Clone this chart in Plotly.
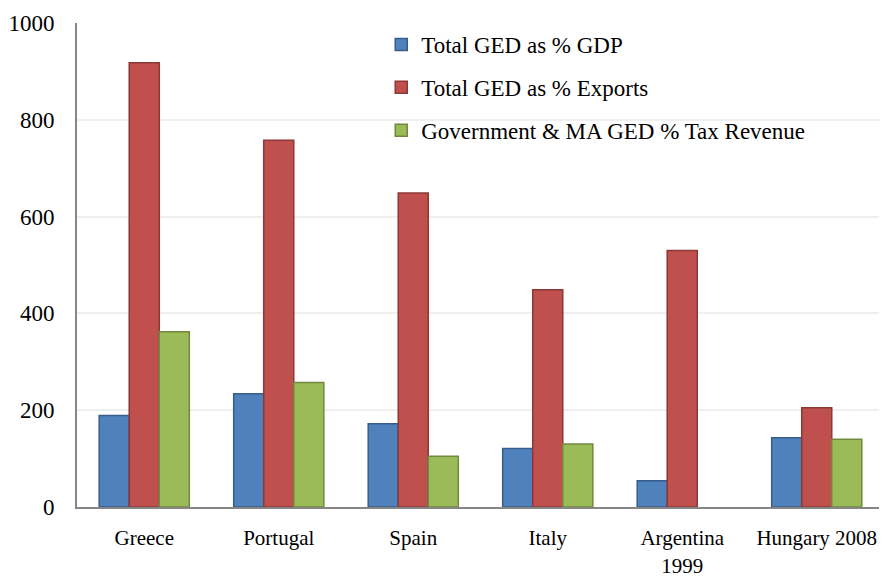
import plotly.graph_objects as go

categories = ["Greece", "Portugal", "Spain", "Italy", "Argentina<br>1999", "Hungary 2008"]
ged_gdp = [189, 234, 172, 121, 54, 143]
ged_exports = [918, 758, 649, 449, 530, 205]
ged_tax = [362, 257, 105, 130, None, 140]
series_names = ["Total GED as % GDP", "Total GED as % Exports", "Government & MA GED % Tax Revenue"]
y_ticks = [0, 200, 400, 600, 800, 1000]

fills = ["#4F81BD", "#C0504D", "#9BBB59"]
borders = ["#385D8A", "#8C3836", "#71893F"]

fig = go.Figure()
for i, (name, vals) in enumerate(zip(series_names, [ged_gdp, ged_exports, ged_tax])):
    fig.add_trace(go.Bar(
        x=categories, y=vals, name=name, legendgroup=str(i),
        marker=dict(color=fills[i], line=dict(color=borders[i], width=1.5)),
    ))

font_family = "Liberation Serif"
# page body has an 8px default margin, so the figure is 8px smaller than the window
fig.update_layout(
    width=879, height=569,
    margin=dict(l=69, r=3, t=15, b=70, autoexpand=False),
    paper_bgcolor="white", plot_bgcolor="white",
    barmode="group", bargap=0.33, bargroupgap=0,
    font=dict(family=font_family, size=23, color="#000000"),
    showlegend=True,
    legend=dict(x=0.377, y=1.0, xanchor="left", yanchor="top",
                bgcolor="rgba(0,0,0,0)", tracegroupgap=10,
                font=dict(size=23, family=font_family), itemwidth=30),
    xaxis=dict(showgrid=False, showline=True, linecolor="#868686", linewidth=2,
               ticks="", ticklabelstandoff=11, tickfont=dict(size=21), automargin=False),
    yaxis=dict(range=[0, 1000], tickvals=y_ticks, showgrid=True, gridcolor="#EFEFEF",
               gridwidth=1.5, showline=True, linecolor="#868686", linewidth=2,
               ticks="", ticklabelstandoff=16, zeroline=False, tickfont=dict(size=23),
               automargin=False),
)

fig.write_html("out.html")
